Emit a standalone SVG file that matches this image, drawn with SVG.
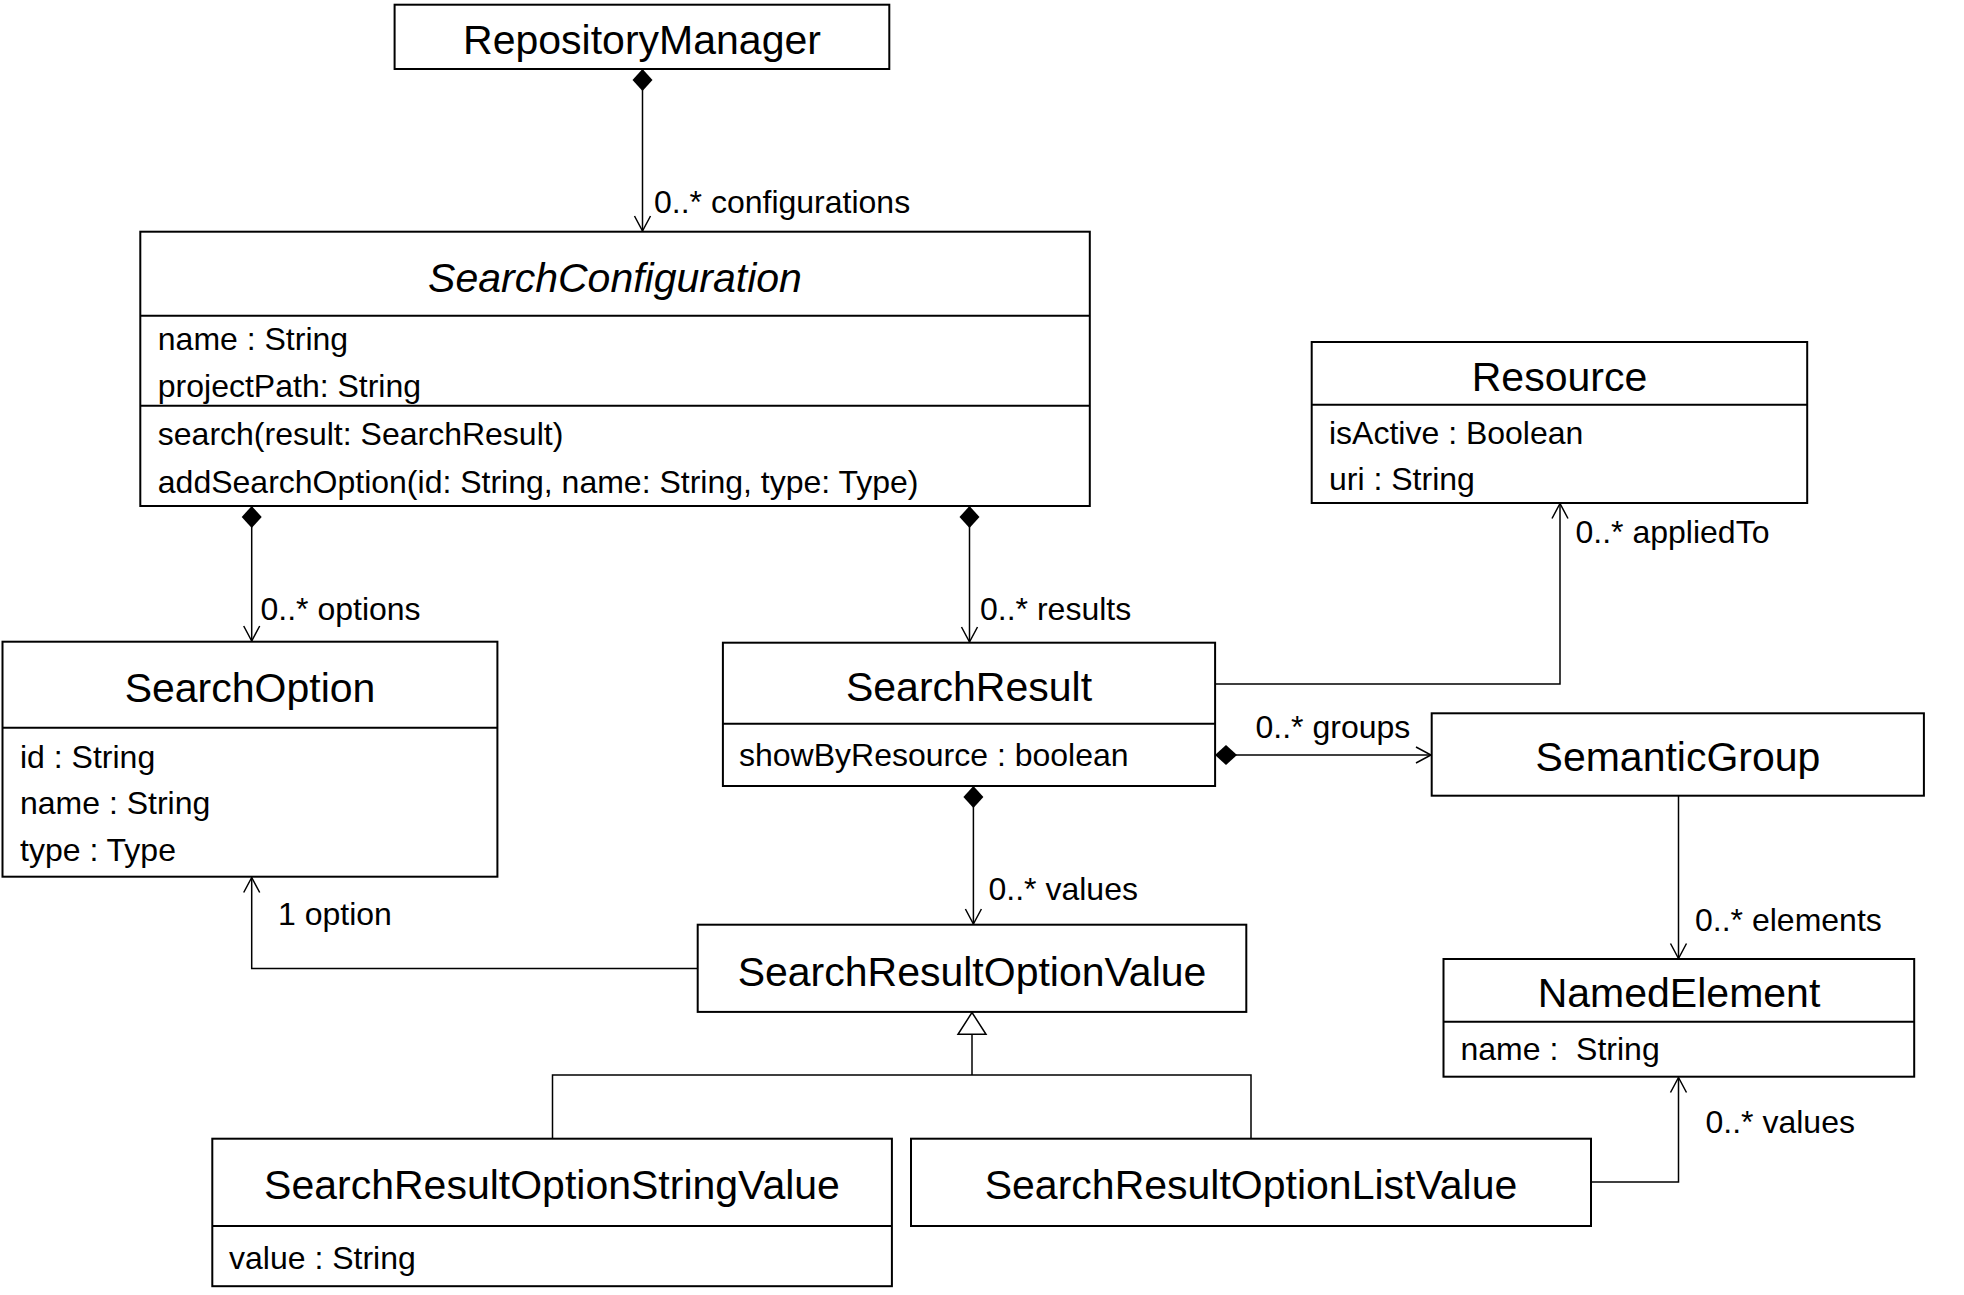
<svg xmlns="http://www.w3.org/2000/svg" width="1964" height="1295" viewBox="0 0 1964 1295">
<style>
.box{fill:#fff;stroke:#000;stroke-width:2}
.div{stroke:#000;stroke-width:2}
.t{font-family:"Liberation Sans",Arial,sans-serif;font-size:41px;fill:#000;text-anchor:middle}
.ti{font-style:italic}
.a{font-family:"Liberation Sans",Arial,sans-serif;font-size:32px;fill:#000}
.c{fill:none;stroke:#000;stroke-width:1.5}
</style>
<defs>
<marker id="arr" markerUnits="userSpaceOnUse" markerWidth="20" markerHeight="20" viewBox="-16 -10 18 20" refX="0" refY="0" orient="auto">
<path d="M-15,-8 L0,0 L-15,8" fill="none" stroke="#000" stroke-width="1.5"/>
</marker>
<marker id="dia" markerUnits="userSpaceOnUse" markerWidth="26" markerHeight="24" viewBox="-1 -12 26 24" refX="0" refY="0" orient="auto">
<path d="M0,0 L11,-10 L22,0 L11,10 Z" fill="#000"/>
</marker>
</defs>

<g id="connectors">
<path class="c" d="M642.5,69 L642.5,231" marker-start="url(#dia)" marker-end="url(#arr)"/>
<path class="c" d="M251.7,506 L251.7,641" marker-start="url(#dia)" marker-end="url(#arr)"/>
<path class="c" d="M969.5,506 L969.5,642" marker-start="url(#dia)" marker-end="url(#arr)"/>
<path class="c" d="M973.4,786 L973.4,924" marker-start="url(#dia)" marker-end="url(#arr)"/>
<path class="c" d="M697.7,968.5 L251.7,968.5 L251.7,877.5" marker-end="url(#arr)"/>
<path class="c" d="M1215,684 L1560,684 L1560,503.5" marker-end="url(#arr)"/>
<path class="c" d="M1215,755 L1431,755" marker-start="url(#dia)" marker-end="url(#arr)"/>
<path class="c" d="M1678.5,795.7 L1678.5,958.5" marker-end="url(#arr)"/>
<path class="c" d="M1591,1182 L1678.5,1182 L1678.5,1077.5" marker-end="url(#arr)"/>
<path class="c" d="M552.5,1138.7 L552.5,1075 L1251,1075 L1251,1138.7"/>
<path class="c" d="M972,1075 L972,1034.3"/>
<polygon points="958,1034.3 986,1034.3 972,1012.5" fill="#fff" stroke="#000" stroke-width="1.5"/>
<text class="a" x="654" y="212.5">0..* configurations</text>
<text class="a" x="260.5" y="619.5">0..* options</text>
<text class="a" x="980" y="619.5">0..* results</text>
<text class="a" x="988.5" y="899.5">0..* values</text>
<text class="a" x="278" y="924.5">1 option</text>
<text class="a" x="1575.5" y="542.7">0..* appliedTo</text>
<text class="a" x="1255.5" y="737.7">0..* groups</text>
<text class="a" x="1695" y="931">0..* elements</text>
<text class="a" x="1705.5" y="1132.5">0..* values</text>
</g>

<g id="RepositoryManager">
<rect class="box" x="394.6" y="4.7" width="494.7" height="64.3"/>
<text class="t" x="642" y="53.5">RepositoryManager</text>
</g>

<g id="SearchConfiguration">
<rect class="box" x="140.3" y="231.7" width="949.5" height="274.3"/>
<line class="div" x1="140.3" y1="315.7" x2="1089.8" y2="315.7"/>
<line class="div" x1="140.3" y1="405.8" x2="1089.8" y2="405.8"/>
<text class="t ti" x="615" y="292">SearchConfiguration</text>
<text class="a" x="157.8" y="350.3">name : String</text>
<text class="a" x="157.8" y="396.7">projectPath: String</text>
<text class="a" x="157.8" y="445.3">search(result: SearchResult)</text>
<text class="a" x="157.8" y="492.5">addSearchOption(id: String, name: String, type: Type)</text>
</g>

<g id="SearchOption">
<rect class="box" x="2.5" y="641.7" width="494.9" height="235"/>
<line class="div" x1="2.5" y1="727.7" x2="497.4" y2="727.7"/>
<text class="t" x="250" y="702.3">SearchOption</text>
<text class="a" x="20" y="767.7">id : String</text>
<text class="a" x="20" y="814.3">name : String</text>
<text class="a" x="20" y="861">type : Type</text>
</g>

<g id="SearchResult">
<rect class="box" x="722.9" y="642.7" width="492.2" height="143.3"/>
<line class="div" x1="722.9" y1="723.7" x2="1215.1" y2="723.7"/>
<text class="t" x="969" y="701.3">SearchResult</text>
<text class="a" x="739" y="766.2">showByResource : boolean</text>
</g>

<g id="Resource">
<rect class="box" x="1311.7" y="342" width="495.5" height="161"/>
<line class="div" x1="1311.7" y1="404.7" x2="1807.2" y2="404.7"/>
<text class="t" x="1559.5" y="390.5">Resource</text>
<text class="a" x="1329" y="443.5">isActive : Boolean</text>
<text class="a" x="1329" y="489.5">uri : String</text>
</g>

<g id="SemanticGroup">
<rect class="box" x="1431.7" y="713.3" width="492.2" height="82.4"/>
<text class="t" x="1678" y="771">SemanticGroup</text>
</g>

<g id="SearchResultOptionValue">
<rect class="box" x="697.7" y="924.7" width="548.6" height="87.2"/>
<text class="t" x="972" y="985.5">SearchResultOptionValue</text>
</g>

<g id="NamedElement">
<rect class="box" x="1443.5" y="959" width="470.7" height="117.7"/>
<line class="div" x1="1443.5" y1="1021.7" x2="1914.2" y2="1021.7"/>
<text class="t" x="1679" y="1007">NamedElement</text>
<text class="a" x="1460.5" y="1060">name : &#160;String</text>
</g>

<g id="SearchResultOptionStringValue">
<rect class="box" x="212.3" y="1138.7" width="679.6" height="147.5"/>
<line class="div" x1="212.3" y1="1226" x2="891.9" y2="1226"/>
<text class="t" x="552" y="1198.5">SearchResultOptionStringValue</text>
<text class="a" x="229" y="1269.3">value : String</text>
</g>

<g id="SearchResultOptionListValue">
<rect class="box" x="911" y="1138.7" width="680" height="87.3"/>
<text class="t" x="1251" y="1198.5">SearchResultOptionListValue</text>
</g>
</svg>
